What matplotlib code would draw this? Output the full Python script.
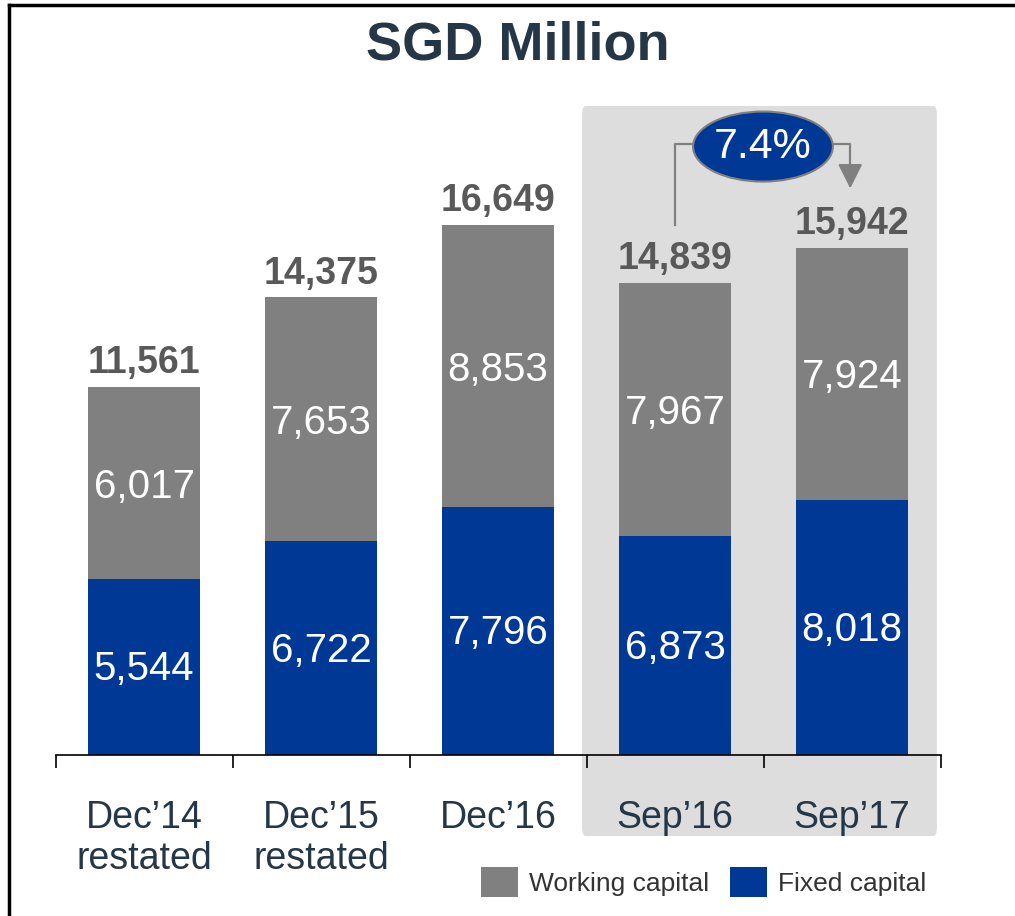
import matplotlib
matplotlib.use("Agg")
import matplotlib.pyplot as plt
from matplotlib.patches import FancyBboxPatch, Ellipse, Patch

plt.rcParams['font.family'] = ['Liberation Sans', 'DejaVu Sans']

categories = ["Dec\u201914\nrestated", "Dec\u201915\nrestated", "Dec\u201916", "Sep\u201916", "Sep\u201917"]
fixed_capital = [5544, 6722, 7796, 6873, 8018]
working_capital = [6017, 7653, 8853, 7967, 7924]
totals = [11561, 14375, 16649, 14839, 15942]
growth_label = "7.4%"

GREY = "#808080"
BLUE = "#003896"
NAVY_TEXT = "#253746"
TOTAL_TEXT = "#595959"

fig = plt.figure(figsize=(10.15, 9.16), dpi=100)
ax = fig.add_axes([55.5 / 1015, 161 / 916, 885 / 1015, 755 / 916])
ax.set_xlim(-0.5, 4.5)
ax.set_ylim(0, 755 / 0.03183)
ax.patch.set_alpha(0)

# highlighted period box (behind the bars)
box = FancyBboxPatch((2.475, -2545), 4.48 - 2.475, 20390 + 2545,
                     boxstyle="round,pad=0,rounding_size=0.02",
                     mutation_aspect=15000,
                     facecolor="#DDDDDD", edgecolor="none", zorder=0, clip_on=False)
ax.add_patch(box)

x = list(range(len(categories)))
w = 0.632
ax.bar(x, fixed_capital, width=w, color=BLUE, zorder=2, label="Fixed capital")
ax.bar(x, working_capital, width=w, bottom=fixed_capital, color=GREY, zorder=2,
       label="Working capital")

for i in x:
    ax.text(i, fixed_capital[i] / 2 - 80, f"{fixed_capital[i]:,}", ha="center", va="center",
            color="white", fontsize=29, zorder=3)
    ax.text(i, fixed_capital[i] + working_capital[i] / 2 - 120, f"{working_capital[i]:,}",
            ha="center", va="center", color="white", fontsize=29, zorder=3)
    ax.text(i, totals[i] + 180, f"{totals[i]:,}", ha="center", va="bottom",
            color=TOTAL_TEXT, fontsize=27, fontweight="bold", zorder=3)

# category labels
for i in x:
    ax.text(i, -1400, categories[i], ha="center", va="top", color=NAVY_TEXT,
            fontsize=27, linespacing=1.2, zorder=3)

# axis
for s in ["top", "right", "left"]:
    ax.spines[s].set_visible(False)
ax.spines["bottom"].set_color("black")
ax.spines["bottom"].set_linewidth(1.2)
ax.spines["bottom"].set_zorder(4)
ax.set_yticks([])
ax.set_xticks([i - 0.5 for i in range(len(categories) + 1)])
ax.set_xticklabels([])
ax.tick_params(axis="x", direction="out", length=9.5, width=1.2, color="black")

# growth annotation
y_mid = 19195
ax.plot([3, 3, 3.10], [16650, y_mid, y_mid], color=GREY, lw=1.6, zorder=3, clip_on=False)
ax.annotate("", xy=(3.99, 17800), xytext=(3.89, y_mid),
            arrowprops=dict(arrowstyle="-|>,head_length=1.5,head_width=0.75",
                            connectionstyle="angle,angleA=0,angleB=90,rad=0",
                            color=GREY, lw=1.6, shrinkA=0, shrinkB=0), zorder=3)
ell = Ellipse((3.497, y_mid - 80), 0.79, 2200, facecolor=BLUE, edgecolor=GREY, lw=1.5,
              zorder=4, clip_on=False)
ax.add_patch(ell)
ax.text(3.497, y_mid - 80, growth_label, ha="center", va="center", color="white",
        fontsize=31, zorder=5)

# title
fig.text(0.51, 1 - 46 / 916, "SGD Million", ha="center", va="center",
         color=NAVY_TEXT, fontsize=39, fontweight="bold")

# legend
handles = [Patch(facecolor=GREY, edgecolor="none", label="Working capital"),
           Patch(facecolor=BLUE, edgecolor="none", label="Fixed capital")]
fig.legend(handles=handles, loc="center left", bbox_to_anchor=(481 / 1015, 1 - 882 / 916),
           ncol=2, frameon=False, fontsize=19, handlelength=1.4, handleheight=1.33,
           handletextpad=0.42, columnspacing=0.8, borderpad=0, borderaxespad=0,
           labelcolor="#333333")

# outer frame (left and top edges)
fig.add_artist(plt.Line2D([9 / 1015, 9 / 1015], [0, 1 - 5 / 916], color="black", lw=2.5,
                          transform=fig.transFigure))
fig.add_artist(plt.Line2D([9 / 1015, 1], [1 - 5 / 916, 1 - 5 / 916], color="black", lw=2.5,
                          transform=fig.transFigure))

fig.savefig("out.png", dpi=100, facecolor="white")
